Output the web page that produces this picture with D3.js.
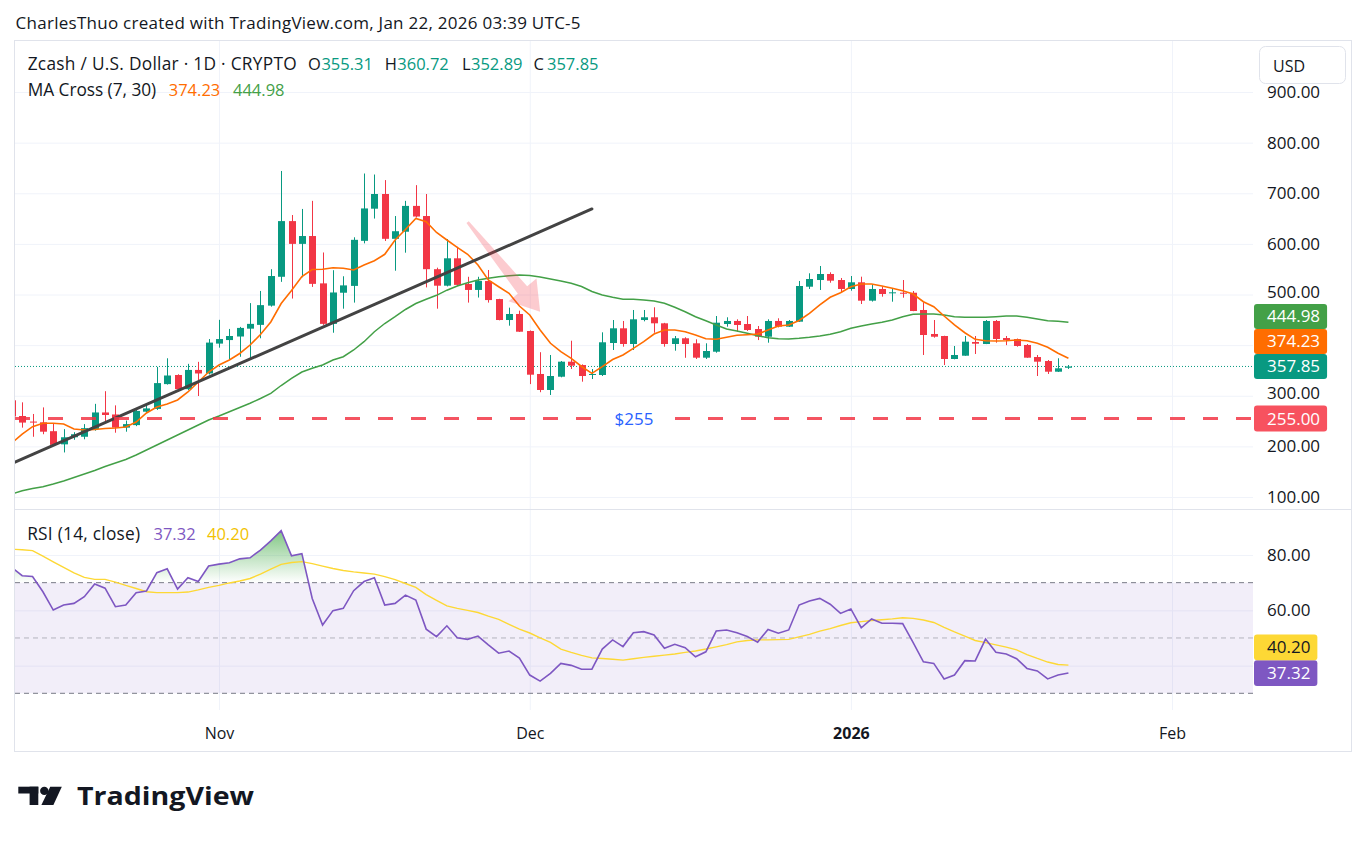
<!DOCTYPE html>
<html><head><meta charset="utf-8">
<script src="https://cdn.jsdelivr.net/npm/d3@7"></script>
<style>
html,body{margin:0;padding:0;background:#fff;}
svg{display:block;font-family:"Open Sans",sans-serif;}
</style></head><body>
<svg id="chart" width="1367" height="843"></svg>
<script>
// ---------------- DATA ----------------
const startDate = "2025-10-12"; // first (partly visible) daily candle
const opens = [291,260,249,247.5,230,204,218,219,234,267,263,237,242,268.5,274,323,341,313,351,344,
403,410,417,432.5,440,478,535,645,600,615.5,522,442,503.5,517,606,669.5,698.5,610,624,675,655,550,517.4,571.5,520.7,509,526.6,491,449.6,461.5,
427.9,343,311.4,337.6,367.3,360.7,341.6,341,404.2,433.2,402.2,449.6,455,443.1,402.2,413.5,403.6,375.2,387,441.7,447.7,441.7,431.8,416.6,447.7,436.4,446.3,515.4,528.6,540.5,528.6,
510.9,524.1,487.8,510.9,502.4,503.5,503.5,469.4,422,418,372.6,379.1,406.2,402.2,447.7,414,412.1,400.3,376.5,368.6,347.5,355.31];
const highs = [300,287,264,277,246,234,228,244,284,309,281,251,275,285,357,374,342.4,363,367,412,
450,432,436,483,507,550,744,657,669,685,583,548,536,613,739,737,726,655,685,716,698.5,553,609.6,594.4,535,535,548.4,491.5,474,468,
429,386,380.5,368.6,408.7,362,352.8,425.3,449.6,447.7,469.4,469.4,474.7,444,418,415.5,411.5,403.6,457.5,455,451,457.5,437.8,451,453,449.6,526.7,541.9,556.3,543.8,532.6,
536.5,535.2,520.1,515.4,510.9,528.6,506.9,484.6,449.6,418.5,398.3,418,418,449.6,449.6,418,413,402.2,380.5,370.6,374,360.72];
const lows = [252,237,219,224,203,188,213,214,231,250,227,229,240,266.5,272,322,308,311,299.5,342,
395,372,377,373,413.5,476,525,492,534,515,440,424.5,472,484,601,650,605.7,547,582.6,652,514,472,516,517,484,494,484,449,438.4,426,
323,307,301.5,336.4,352.8,327.8,333,339,390.4,396.9,390.4,447,424.5,396.9,389,375,372.6,372.6,385,436.4,426.5,428,410,404.8,435,436,446,510.9,508.9,523.3,504.4,
507.5,481.2,486,495.7,485.8,493.7,467,380.5,414.7,360.7,372,379,382.5,402,404.8,400,396.9,375,339,343,347,352.89];
const closes = [259,247,247,229,203,218,224,236,267,262,237,244,270,275,325,340,313,351,344,405,
412,418,434,442,479,536.5,645,600,615.5,521,442,504,518,608,670,698.5,610,625,675,654,550,517.4,571.5,519,509,526.6,489,449.6,461.5,426.5,
341.6,311.4,339,367.3,359.4,339,343,405.6,433.2,402.2,451,455,443.1,402.2,413.5,402.2,375.2,388.4,444.3,447.7,439.8,429.9,416.6,447.7,436.4,447.7,516.8,530.6,540.5,527.3,510.9,
524.1,487.8,510.9,501,504.3,501.6,467.4,420,416.6,372.6,380.5,406.8,402.8,447.7,412.1,410,398.3,375.2,367.3,347.5,354.2,357.85];
const ma7 = [206.7,224.4,238.9,245.6,245.6,244.2,234.3,232.3,233.3,235.3,236.3,238.3,248.1,265.9,277.8,283.7,291.6,307.4,327.2,346.9,
360.7,370.6,383.5,400.2,421,445.7,482.2,507.9,535.6,549.4,549.8,552.9,551.8,548.4,558.3,566.8,579.4,607.7,628.4,650.1,643.8,622.5,607.7,593.2,579.4,558.3,528.6,515.4,502.4,477.3,
459.5,429.9,403.6,387,374,357.8,344.3,357.4,371.6,380.5,393.7,406.8,422,429.9,429.9,426.5,420,412.7,411.5,415.5,419.4,420.6,422,429.9,437.8,439.8,448.6,462.9,479.3,494.5,503.6,
515.4,520.7,520.7,516.8,512.2,507.5,501,485.8,475.9,457.5,439.8,424.5,411.5,408.7,408.1,408.7,410.1,408.7,403.6,395.7,383.9,374.23];
const ma30 = [105.9,112.2,116.8,120.3,125.7,131.6,138.5,145.4,152.3,160.2,167.2,174.1,183,192.8,202.7,212.6,222.5,232.3,242.2,252.1,
260,268.5,276.8,285.1,294.6,304.8,320.2,334.1,346.9,354.2,360.7,370.6,377.1,390.4,406.8,426.5,442.7,456.1,470.4,482.2,490.5,498.4,508.5,516.8,523.1,528.6,532,535.2,537.1,538.5,
537.5,534.6,530.6,526.7,522.1,515.8,505.9,499,494.5,490.5,490.5,489.1,487.2,482.6,474.7,466,456.1,448.2,439.8,431.9,427.9,423.4,418.6,414.7,412.7,412.1,413.5,415.5,418,421.4,426.5,
433.2,437.8,441.7,445.1,449.6,456.1,460.9,461.5,461.5,459.5,456.1,455,455,455,456.1,457.5,457.5,455,451.6,448.2,447.1,444.98];
const rsi = [75.5,72.5,72.2,66.7,60.1,61.9,62.5,64.9,69.5,68,61.3,61.9,66.4,67,73.6,75,67.7,71.8,70.4,76,
76.7,77.2,78.6,79,81.8,85.1,88.8,79.7,80.5,64.3,54.7,59.9,60.7,67.1,70.4,71.8,61.9,62.5,65.5,63.7,53.2,50.5,54.4,50.1,49.5,50.7,47.5,44.5,45.3,42.7,
36.6,34.4,37.2,40.8,40.1,38.7,38.7,46,49.3,46.9,51.9,52.3,51.1,46.3,47.7,46.5,43.2,45,52.5,52.9,51.9,50.5,48.5,53.1,51.7,52.9,61.9,63.4,64.3,62.2,58.9,
60.5,53.7,56.9,55.3,55.3,55.2,48.4,41.4,40.8,35.2,36.6,41.8,41.7,49.6,44.8,44.2,42.5,39,38.1,35.2,36.6,37.32];
const rsiMa = [82.1,81.9,81.6,79.6,77.5,75.5,73.5,71.9,71.2,71.2,70.2,69,67.9,66.7,66.4,66.4,66.4,66.6,67.4,68.3,
69,69.9,70.6,71.5,73.1,74.9,76.6,77.3,77.6,76.9,76,75.1,74.4,73.9,73.5,73.1,72.2,71.1,69.7,68.3,65.7,63.6,61.6,60.7,60,59.2,57.9,56.7,54.9,53.2,
51.8,50,48.4,46,44.8,43.7,42.8,42.6,42.3,42,42.5,43,43.4,43.8,44.2,44.8,45.3,46,46.8,47.6,48.6,49.1,49.3,49.3,49.4,49.5,50.4,51.3,52.5,53.4,54.5,
55.5,55.9,56.3,56.6,56.9,57.3,57.1,56.5,55.6,53.8,52.2,50.7,49.1,48.3,47.5,46.7,45.7,44,42.6,41.3,40.4,40.2];
const priceTicks = [100,200,300,400,500,600,700,800,900];
const rsiTicks = [80,60,40];
const rsiLevels = [70,50,30];
const timeTicks = [
  {date:"2025-11-01", label:"Nov", bold:false},
  {date:"2025-12-01", label:"Dec", bold:false},
  {date:"2026-01-01", label:"2026", bold:true},
  {date:"2026-02-01", label:"Feb", bold:false}];
const supportLevel = 255;
const supportText = "$255";
const trendLine = [{date:"2025-10-12", price:166},{date:"2025-12-07", price:669}];
const arrowPts = [{date:"2025-11-25", price:643},{date:"2025-12-02", price:466}];
const headerText = "CharlesThuo created with TradingView.com, Jan 22, 2026 03:39 UTC-5";

// ---------------- LAYOUT ----------------
const C = {green:"#089981", red:"#f23645", orange:"#ff6d00", maGreen:"#43a047", purple:"#7e57c2",
  yellow:"#fdd835", text:"#131722", grid:"#f0f3fa", border:"#e0e3eb", blue:"#2962ff"};
const plotL = 15, plotR = 1253, priceTop = 41, sepY = 509.5, rsiBot = 710;
const svg = d3.select("#chart");
const parse = s => new Date(s + "T00:00:00Z");
const dates = d3.utcDay.range(parse(startDate), d3.utcDay.offset(parse(startDate), opens.length));

const x = d3.scaleUtc().domain([parse("2025-11-01"), parse("2026-02-01")]).range([219, 1172]);
const y = d3.scaleLinear().domain([100, 900]).range([497, 92]);
const ry = d3.scaleLinear().domain([30, 80]).range([693.3, 555]);

svg.append("rect").attr("width",1367).attr("height",843).attr("fill","#fff");
const defs = svg.append("defs");
defs.append("clipPath").attr("id","cp").append("rect")
  .attr("x",plotL).attr("y",priceTop).attr("width",plotR-plotL).attr("height",sepY-priceTop);
defs.append("clipPath").attr("id","cr").append("rect")
  .attr("x",plotL).attr("y",sepY).attr("width",plotR-plotL).attr("height",rsiBot-sepY);
defs.append("clipPath").attr("id","cob").append("rect")
  .attr("x",plotL).attr("y",sepY).attr("width",plotR-plotL).attr("height",ry(70)-sepY);
defs.append("clipPath").attr("id","cos").append("rect")
  .attr("x",plotL).attr("y",ry(30)).attr("width",plotR-plotL).attr("height",rsiBot-ry(30));
const gob = defs.append("linearGradient").attr("id","gob").attr("gradientUnits","userSpaceOnUse")
  .attr("x1",0).attr("x2",0).attr("y1",ry(90)).attr("y2",ry(70));
gob.append("stop").attr("offset",0).attr("stop-color","#4caf50").attr("stop-opacity",0.75);
gob.append("stop").attr("offset",1).attr("stop-color","#4caf50").attr("stop-opacity",0);
const gos = defs.append("linearGradient").attr("id","gos").attr("gradientUnits","userSpaceOnUse")
  .attr("x1",0).attr("x2",0).attr("y1",ry(30)).attr("y2",ry(10));
gos.append("stop").attr("offset",0).attr("stop-color","#f23645").attr("stop-opacity",0);
gos.append("stop").attr("offset",1).attr("stop-color","#f23645").attr("stop-opacity",0.75);

// header
svg.append("text").attr("x",15.6).attr("y",29).attr("font-size",17).attr("fill",C.text)
  .attr("textLength",565).attr("lengthAdjust","spacing").text(headerText);

// container
svg.append("rect").attr("x",14.5).attr("y",40.5).attr("width",1337).attr("height",711)
  .attr("fill","none").attr("stroke",C.border);

// grids
const gGrid = svg.append("g");
gGrid.append("g").attr("transform",`translate(${plotL},0)`)
  .call(d3.axisRight(y).tickValues(priceTicks).tickSize(plotR-plotL).tickFormat(""))
  .call(g=>g.select(".domain").remove()).selectAll("line").attr("stroke",C.grid);
gGrid.append("g").attr("transform",`translate(${plotL},0)`)
  .call(d3.axisRight(ry).tickValues(rsiTicks).tickSize(plotR-plotL).tickFormat(""))
  .call(g=>g.select(".domain").remove()).selectAll("line").attr("stroke",C.grid);
gGrid.append("g").attr("transform",`translate(0,${rsiBot})`)
  .call(d3.axisBottom(x).tickValues(timeTicks.map(t=>parse(t.date))).tickSize(-(rsiBot-priceTop)).tickFormat(""))
  .call(g=>g.select(".domain").remove()).selectAll("line").attr("stroke",C.grid);

// pane separator
svg.append("line").attr("x1",14.5).attr("x2",1351.5).attr("y1",sepY).attr("y2",sepY).attr("stroke",C.border);

// ---------- price pane ----------
const pp = svg.append("g").attr("clip-path","url(#cp)");
pp.append("line").attr("x1",plotL).attr("x2",plotR)
  .attr("y1",y(closes[closes.length-1])).attr("y2",y(closes[closes.length-1]))
  .attr("stroke",C.green).attr("stroke-dasharray","1 2").attr("stroke-width",1);

// candles
const cg = pp.append("g");
dates.forEach((d,i)=>{
  const cx = x(d), up = closes[i] >= opens[i], col = up ? C.green : C.red;
  const wx = Math.round(cx) + 0.5;
  cg.append("line").attr("x1",wx).attr("x2",wx).attr("y1",y(highs[i])).attr("y2",y(lows[i]))
    .attr("stroke",col).attr("stroke-width",1);
  const yt = y(Math.max(opens[i],closes[i])), yb = y(Math.min(opens[i],closes[i]));
  cg.append("rect").attr("x",Math.round(cx)-3).attr("width",7)
    .attr("y",yt).attr("height",Math.max(1,yb-yt)).attr("fill",col);
});

// moving averages
const lineGen = arr => d3.line().x((d,i)=>x(dates[i])).y(d=>y(d))(arr);
pp.append("path").attr("d",lineGen(ma30)).attr("fill","none").attr("stroke",C.maGreen).attr("stroke-width",1.5);
pp.append("path").attr("d",lineGen(ma7)).attr("fill","none").attr("stroke",C.orange).attr("stroke-width",1.6);

// trend line
pp.append("line")
  .attr("x1",x(parse(trendLine[0].date))).attr("y1",y(trendLine[0].price))
  .attr("x2",x(parse(trendLine[1].date))).attr("y2",y(trendLine[1].price))
  .attr("stroke","#434343").attr("stroke-width",3).attr("stroke-linecap","round");

// arrow
{
  const S=[x(parse(arrowPts[0].date)), y(arrowPts[0].price)], T=[x(parse(arrowPts[1].date)), y(arrowPts[1].price)];
  const dx=T[0]-S[0], dy=T[1]-S[1], L=Math.hypot(dx,dy), ux=dx/L, uy=dy/L, nx=-uy, ny=ux;
  const hl=28, hw=18, s0=1.5, s1=6;
  const B=[T[0]-ux*hl, T[1]-uy*hl];
  const P=(p,k)=>[p[0]+nx*k, p[1]+ny*k];
  const pts=[P(S,s0),P(B,s1),P(B,hw),T,P(B,-hw),P(B,-s1),P(S,-s0)];
  pp.append("polygon").attr("points",pts.map(p=>p.join(",")).join(" ")).attr("fill","rgba(242,54,69,0.26)");
}

// support line + label
pp.append("line").attr("x1",plotL).attr("x2",plotR).attr("y1",y(supportLevel)).attr("y2",y(supportLevel))
  .attr("stroke","#f23645").attr("stroke-opacity",0.85).attr("stroke-width",3).attr("stroke-dasharray","15 18");
pp.append("rect").attr("x",597).attr("y",y(supportLevel)-10).attr("width",74).attr("height",20).attr("fill","#fff");
pp.append("text").attr("x",634).attr("y",y(supportLevel)+6).attr("text-anchor","middle")
  .attr("font-size",17).attr("fill",C.blue).text(supportText);

// ---------- RSI pane ----------
const rp = svg.append("g").attr("clip-path","url(#cr)");
rp.append("rect").attr("x",plotL).attr("width",plotR-plotL).attr("y",ry(70)).attr("height",ry(30)-ry(70))
  .attr("fill","rgba(126,87,194,0.1)");
rsiLevels.forEach(v=>{
  rp.append("line").attr("x1",plotL).attr("x2",plotR).attr("y1",ry(v)).attr("y2",ry(v))
    .attr("stroke","#787b86").attr("stroke-opacity", v===50 ? 0.5 : 1).attr("stroke-dasharray","5 4");
});
const areaOB = d3.area().x((d,i)=>x(dates[i])).y0(ry(70)).y1(d=>ry(d));
rp.append("g").attr("clip-path","url(#cob)").append("path").attr("d",areaOB(rsi)).attr("fill","url(#gob)");
const areaOS = d3.area().x((d,i)=>x(dates[i])).y0(ry(30)).y1(d=>ry(d));
rp.append("g").attr("clip-path","url(#cos)").append("path").attr("d",areaOS(rsi)).attr("fill","url(#gos)");
const rLine = arr => d3.line().x((d,i)=>x(dates[i])).y(d=>ry(d))(arr);
rp.append("path").attr("d",rLine(rsiMa)).attr("fill","none").attr("stroke",C.yellow).attr("stroke-width",1.4);
rp.append("path").attr("d",rLine(rsi)).attr("fill","none").attr("stroke",C.purple).attr("stroke-width",1.6);

// ---------- value labels (computed first so colliding tick labels are hidden / nudged) ----------
const axisFont = 17, labelX = 1267;
function stackLabels(items, scale, h){
  const arr = items.map(it=>({...it, yy: scale(it.v), h})).sort((a,b)=>b.yy-a.yy);
  let prev = null;
  arr.forEach(it=>{ if(prev!==null && it.yy > prev - h) it.yy = prev - h; prev = it.yy; });
  return arr;
}
const priceLabels = stackLabels([
  {v: closes[closes.length-1], bg:C.green, fg:"#fff"},
  {v: ma7[ma7.length-1], bg:C.orange, fg:"#fff"},
  {v: ma30[ma30.length-1], bg:C.maGreen, fg:"#fff"}], y, 25)
  .concat(stackLabels([{v: supportLevel, bg:"#f7525f", fg:"#fff"}], y, 26));
const rsiLabels = stackLabels([
  {v: rsi[rsi.length-1], bg:C.purple, fg:"#fff"},
  {v: rsiMa[rsiMa.length-1], bg:C.yellow, fg:"#131722"}], ry, 25.7);
const freeOf = (labels, yy) => labels.every(l => Math.abs(l.yy - yy) > l.h/2 + 6);
// shift a tick label just clear of the nearest value label box
const nudge = (labels, yy) => {
  let off = 0;
  labels.forEach(l => { const d = yy - l.yy, need = l.h/2 + 12;
    if (Math.abs(d) < need) off += (d < 0 ? -1 : 1) * (need - Math.abs(d)); });
  return off;
};

// ---------- axes ----------
function styleTicks(g, labels, scale){
  g.select(".domain").remove();
  g.selectAll("text").attr("font-size",axisFont).attr("font-family","Open Sans").attr("fill",C.text)
    .attr("y", d => nudge(labels, scale(d)));
}
svg.append("g").attr("transform",`translate(${labelX},0)`)
  .call(d3.axisRight(y).tickValues(priceTicks.filter(v=>freeOf(priceLabels,y(v))))
    .tickSize(0).tickPadding(0).tickFormat(d3.format(".2f")))
  .call(g=>styleTicks(g, priceLabels, y));
svg.append("g").attr("transform",`translate(${labelX},0)`)
  .call(d3.axisRight(ry).tickValues(rsiTicks.filter(v=>freeOf(rsiLabels,ry(v))))
    .tickSize(0).tickPadding(0).tickFormat(d3.format(".2f")))
  .call(g=>styleTicks(g, rsiLabels, ry));

const ta = svg.append("g").attr("transform","translate(0,722)")
  .call(d3.axisBottom(x).tickValues(timeTicks.map(t=>parse(t.date))).tickSize(0)
    .tickFormat((d,i)=>timeTicks[i].label));
ta.select(".domain").remove();
ta.selectAll("text").attr("font-size",16).attr("font-family","Open Sans").attr("fill",C.text)
  .attr("dy",null).attr("y",16.5).attr("font-weight",(d,i)=>timeTicks[i].bold?700:400);

function drawLabels(arr){
  arr.forEach(it=>{
    const g = svg.append("g");
    const r = g.append("rect").attr("x",1254).attr("y",it.yy-it.h/2).attr("height",it.h).attr("rx",3).attr("fill",it.bg);
    const t = g.append("text").attr("x",labelX).attr("y",it.yy+6).attr("font-size",axisFont)
      .attr("fill",it.fg).text(d3.format(".2f")(it.v));
    r.attr("width", labelX - 1254 + t.node().getComputedTextLength() + 7);
  });
}
drawLabels(priceLabels);
drawLabels(rsiLabels);

// USD button
svg.append("rect").attr("x",1259.5).attr("y",46.5).attr("width",86).attr("height",37).attr("rx",6)
  .attr("fill","#fff").attr("stroke",C.border);
svg.append("text").attr("x",1273).attr("y",71.5).attr("font-size",16).attr("fill",C.text).text("USD");

// ---------- legends ----------
const f2 = d3.format(".2f");
const last = opens.length-1;
function legend(yb, parts){
  const t = svg.append("text").attr("y",yb).attr("font-size",16.5).attr("fill",C.text);
  parts.forEach(([xx,txt,c,len])=>{
    const s = t.append("tspan").attr("x",xx).attr("fill",c).text(txt);
    if(len){ s.attr("font-size",17.3).attr("textLength",len).attr("lengthAdjust","spacing"); }
  });
}
legend(70, [[27.7,"Zcash / U.S. Dollar · 1D · CRYPTO",C.text,269],[308,"O",C.text],[321.4,f2(opens[last]),C.green],
 [384.8,"H",C.text],[397.3,f2(highs[last]),C.green],[462,"L",C.text],[471,f2(lows[last]),C.green],
 [533.5,"C",C.text],[547,f2(closes[last]),C.green]]);
legend(96, [[27.7,"MA Cross (7, 30)",C.text,128.5],[168.75,f2(ma7[last]),C.orange],[233,f2(ma30[last]),C.maGreen]]);
legend(539.5, [[27.2,"RSI (14, close)",C.text,113],[153.5,f2(rsi[last]),C.purple],[207,f2(rsiMa[last]),"#f2c200"]]);

// ---------- logo ----------
const logo = svg.append("g").attr("fill","#131722");
logo.append("rect").attr("x",18.3).attr("y",786.7).attr("width",20).attr("height",6.8);
logo.append("rect").attr("x",29.6).attr("y",786.7).attr("width",8.7).attr("height",18.3);
logo.append("circle").attr("cx",44.3).attr("cy",790.9).attr("r",4.2);
logo.append("polygon").attr("points","50.2,786.7 61.8,786.7 53.4,805 41.4,805");
logo.append("text").attr("x",77).attr("y",805).attr("font-size",25).attr("font-weight",700)
  .attr("textLength",177).attr("lengthAdjust","spacingAndGlyphs").text("TradingView");
</script>
</body></html>
